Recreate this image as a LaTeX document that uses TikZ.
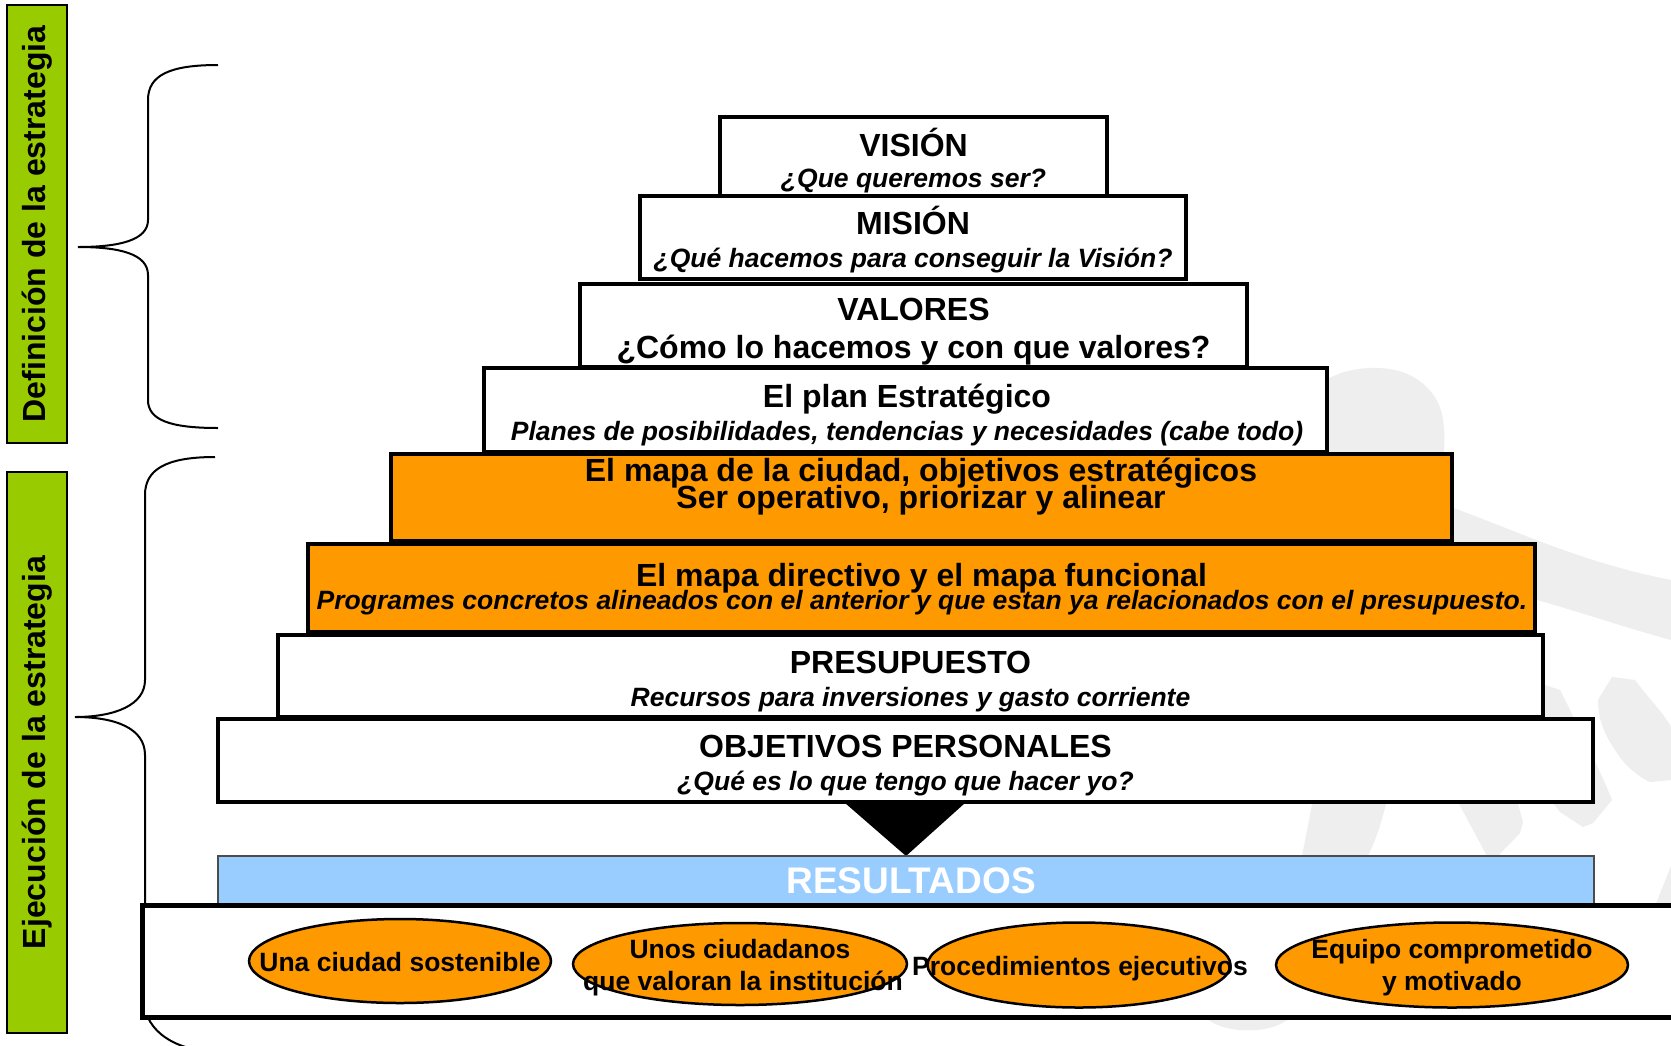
\documentclass[tikz,border=0pt]{standalone}
\usepackage{fontspec}
\setmainfont{Liberation Sans}
\usetikzlibrary{shapes.geometric,shadows}
\definecolor{lgreen}{HTML}{99CC00}
\definecolor{orng}{HTML}{FF9900}
\definecolor{lblue}{HTML}{99CCFF}
\definecolor{wmark}{HTML}{EEEEEE}
\newcommand\fsTitle{\fontsize{32}{34}\selectfont\bfseries}
\newcommand\fsSub{\fontsize{26.5}{29}\selectfont\bfseries\itshape}
\newcommand\fsEll{\fontsize{26.5}{29}\selectfont\bfseries}
\newcommand\fsRes{\fontsize{37}{40}\selectfont\bfseries}
\begin{document}
\begin{tikzpicture}[x=1pt,y=-1pt,
  tier/.style={draw=black, line width=4pt, fill=white, inner sep=0pt,
    drop shadow={shadow xshift=2pt, shadow yshift=-2pt, fill=black!22, opacity=1}},
  otier/.style={tier, fill=orng},
  ttl/.style={font=\fsTitle, anchor=base, inner sep=0pt},
  sub/.style={font=\fsSub, anchor=base, inner sep=0pt},
  ell/.style={ellipse, draw=black, line width=2.5pt, fill=orng, inner sep=0pt},
  etext/.style={font=\fsEll, anchor=base, inner sep=0pt},
  glabel/.style={draw=black, line width=2pt, fill=lgreen, inner sep=0pt, minimum width=60pt},
  gtext/.style={font=\fsTitle, rotate=90, inner sep=0pt},
  brace/.style={draw=black, line width=2pt},
  wm/.style={fill=wmark, draw=none}
]
\clip (0,0) rectangle (1671,1045);
\fill[white] (0,0) rectangle (1671,1045);

% watermark figure
\path[wm] (1310,392) .. controls (1330,372) and (1360,365) .. (1390,369)
  .. controls (1420,374) and (1440,395) .. (1443,420)
  .. controls (1446,440) and (1444,455) .. (1440,470) -- (1448,506)
  .. controls (1520,532) and (1580,562) .. (1671,580) -- (1671,640)
  .. controls (1620,626) and (1580,612) .. (1537,600) -- (1330,560) -- cycle;
\path[wm] (1530,680) -- (1560,690) .. controls (1580,730) and (1600,770) .. (1612,800)
  -- (1593,823) -- (1583,827) -- (1560,812) -- (1520,760) -- cycle;
\path[wm] (1612,677) -- (1635,680) .. controls (1650,700) and (1665,715) .. (1671,727)
  -- (1671,780) -- (1650,782) .. controls (1635,775) and (1622,762) .. (1615,750)
  .. controls (1605,735) and (1598,720) .. (1598,700) -- cycle;
\path[wm] (1313,800) -- (1387,800) .. controls (1383,815) and (1380,830) .. (1368,856) -- (1302,856) -- cycle;
\path[wm] (1457,800) -- (1517,800) -- (1523,822) -- (1520,833) -- (1498,856) -- (1487,856) -- cycle;
\path[wm] (1655,906) -- (1671,866) -- (1671,906) -- cycle;
\path[wm] (1205,1016) .. controls (1215,1032) and (1270,1038) .. (1292,1016) -- cycle;

% green side labels
\node[glabel, minimum height=438pt] (g1) at (37,224) {};
\node[gtext] (g1t) at (g1.center) {Definición de la estrategia};
\node[glabel, minimum height=561pt] (g2) at (37,752.5) {};
\node[gtext] (g2t) at (g2.center) {Ejecución de la estrategia};

% braces
\draw[brace] (218,65) .. controls (170,65) and (148,75) .. (148,100) -- (148,220)
  .. controls (148,240) and (120,247) .. (78,247)
  .. controls (120,247) and (148,254) .. (148,275) -- (148,400)
  .. controls (148,420) and (170,428) .. (218,428);
\draw[brace] (215,457) .. controls (165,457) and (145,470) .. (145,495) -- (145,680)
  .. controls (145,705) and (115,717) .. (75,717)
  .. controls (115,717) and (145,728) .. (145,755) -- (145,1003)
  .. controls (145,1030) and (175,1052) .. (220,1052);

% pyramid tiers
\node[tier, minimum width=387pt, minimum height=79pt] (vision) at (913.5,156.5) {};
\node[ttl] (visionA) at (913.5,156) {VISIÓN};
\node[sub] (visionB) at (913.5,187) {¿Que queremos ser?};

\node[tier, minimum width=546pt, minimum height=83pt] (mision) at (913,237.5) {};
\node[ttl] (misionA) at (913,234) {MISIÓN};
\node[sub] (misionB) at (913,267) {¿Qué hacemos para conseguir la Visión?};

\node[tier, minimum width=667pt, minimum height=83pt] (valores) at (913.5,325.5) {};
\node[ttl] (valoresA) at (913.5,320) {VALORES};
\node[ttl] (valoresB) at (913.5,358) {¿Cómo lo hacemos y con que valores?};

\node[tier, minimum width=843pt, minimum height=84pt] (plan) at (905.5,410) {};
\node[ttl] (planA) at (907,407) {El plan Estratégico};
\node[sub] (planB) at (907,440) {Planes de posibilidades, tendencias y necesidades (cabe todo)};

\node[otier, minimum width=1061pt, minimum height=87pt] (mapa1) at (921.5,497.5) {};
\node[ttl] (mapa1A) at (921,481.5) {El mapa de la ciudad, objetivos estratégicos};
\node[ttl] (mapa1B) at (921,508) {Ser operativo, priorizar y alinear};

\node[otier, minimum width=1227pt, minimum height=88pt] (mapa2) at (921.5,588) {};
\node[ttl] (mapa2A) at (921.5,586) {El mapa directivo y el mapa funcional};
\node[sub] (mapa2B) at (922,609.5) {Programes concretos alineados con el anterior y que estan ya relacionados con el presupuesto.};

\node[tier, minimum width=1265pt, minimum height=82pt] (presu) at (910.5,676) {};
\node[ttl] (presuA) at (910.5,673) {PRESUPUESTO};
\node[sub] (presuB) at (910.5,706) {Recursos para inversiones y gasto corriente};

\node[tier, minimum width=1375pt, minimum height=83pt] (obj) at (905.5,760.5) {};
\node[ttl] (objA) at (905.5,757) {OBJETIVOS PERSONALES};
\node[sub] (objB) at (905.5,790) {¿Qué es lo que tengo que hacer yo?};

% arrow to results
\fill[black] (845,803) -- (965,803) -- (906,856) -- cycle;

% results bar
\node[draw=black!70, line width=1.2pt, fill=lblue, inner sep=0pt,
  minimum width=1376pt, minimum height=49pt] (res) at (906,880.5) {};
\node[font=\fsRes, text=white, anchor=base, inner sep=0pt] (resT) at (911,893) {RESULTADOS};

% bottom box
\node[draw=black, line width=5pt, fill=white, inner sep=0pt,
  minimum width=1560pt, minimum height=112pt] (bottom) at (922,961) {};

% ellipses
\node[ell, minimum width=302pt, minimum height=84pt] (e1) at (400,961) {};
\node[ell, minimum width=334pt, minimum height=82pt] (e2) at (740,964) {};
\node[ell, minimum width=303pt, minimum height=85pt] (e3) at (1079,965) {};
\node[ell, minimum width=352pt, minimum height=85pt] (e4) at (1452,965) {};
\node[etext] (e1t) at (400,971) {Una ciudad sostenible};
\node[etext] (e2a) at (740,958) {Unos ciudadanos};
\node[etext] (e2b) at (743,990) {que valoran la institución};
\node[etext] (e3t) at (1080,975) {Procedimientos ejecutivos};
\node[etext] (e4a) at (1452,958) {Equipo comprometido};
\node[etext] (e4b) at (1452,990) {y motivado};
\end{tikzpicture}
\end{document}
